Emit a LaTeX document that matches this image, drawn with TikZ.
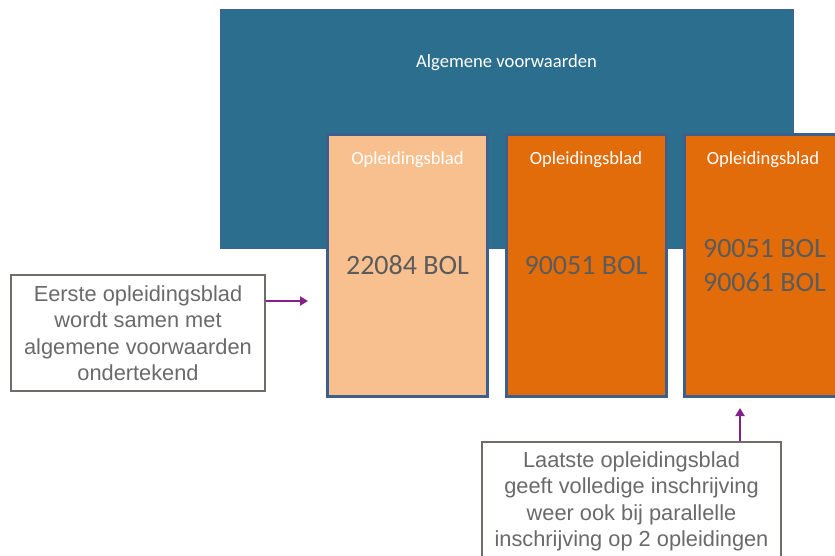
\documentclass[tikz,border=0pt]{standalone}
\usepackage{fontspec}
\setmainfont{Carlito}
\newfontfamily\calloutfont{Liberation Sans}
\usetikzlibrary{arrows.meta}
\definecolor{avblue}{HTML}{2C6E8D}
\definecolor{avedge}{HTML}{41648F}
\definecolor{blededge}{HTML}{3C5F8E}
\definecolor{palebled}{HTML}{F9C08F}
\definecolor{bled}{HTML}{E36C0A}
\definecolor{codegray}{HTML}{5B5B5B}
\definecolor{notegray}{HTML}{6A6A6A}
\definecolor{noteedge}{HTML}{706C69}
\definecolor{pointer}{HTML}{85208A}
\tikzset{
  avbox/.style={draw=avedge, line width=1pt, fill=avblue, minimum width=573pt,
    minimum height=238pt, inner sep=0pt},
  bladbox/.style={draw=blededge, line width=3pt, minimum width=160pt,
    minimum height=262pt, inner sep=0pt, align=center, text=codegray,
    font=\fontsize{28}{34}\selectfont},
  whitetext/.style={text=white, inner sep=0pt, font=\fontsize{18.6}{22}\selectfont},
  note/.style={draw=noteedge, line width=2pt, fill=white, align=center,
    text=notegray, inner sep=0pt, font=\calloutfont\fontsize{21.8}{26.5}\selectfont},
  pointerarrow/.style={draw=pointer, line width=2pt,
    -{Triangle[length=8pt,width=9pt]}}
}
\begin{document}
\begin{tikzpicture}[x=1pt,y=-1pt]
\clip (0,0) rectangle (835,556);
\fill[white] (0,0) rectangle (835,556);

% general terms block
\node[avbox] (av) at (506.5,129) {};
\node[whitetext] (avtitle) at (506.5,63) {Algemene voorwaarden};

% study sheets
\node[bladbox, fill=palebled] (b1) at (407.5,265.5) {22084 BOL};
\node[bladbox, fill=bled] (b2) at (586,265.5) {90051 BOL};
\node[bladbox, fill=bled] (b3) at (764.5,265.5) {90051 BOL\\90061 BOL};
\node[whitetext] (t1) at (407.5,160) {Opleidingsblad};
\node[whitetext] (t2) at (586,160) {Opleidingsblad};
\node[whitetext] (t3) at (763,160) {Opleidingsblad};

% explanatory notes
\node[note, minimum width=254pt, minimum height=116pt] (n1) at (138,333)
  {Eerste opleidingsblad\\wordt samen met\\algemene voorwaarden\\ondertekend};
\node[note, minimum width=299pt, minimum height=119pt] (n2) at (631.5,501.5)
  {Laatste opleidingsblad\\geeft volledige inschrijving\\weer ook bij parallelle\\inschrijving op 2 opleidingen};

% pointers
\coordinate (p1) at (308,301);
\coordinate (p2) at (740,408);
\draw[pointerarrow] (n1.east |- p1) -- (p1);
\draw[pointerarrow] (n2.north -| p2) -- (p2);
\end{tikzpicture}
\end{document}
